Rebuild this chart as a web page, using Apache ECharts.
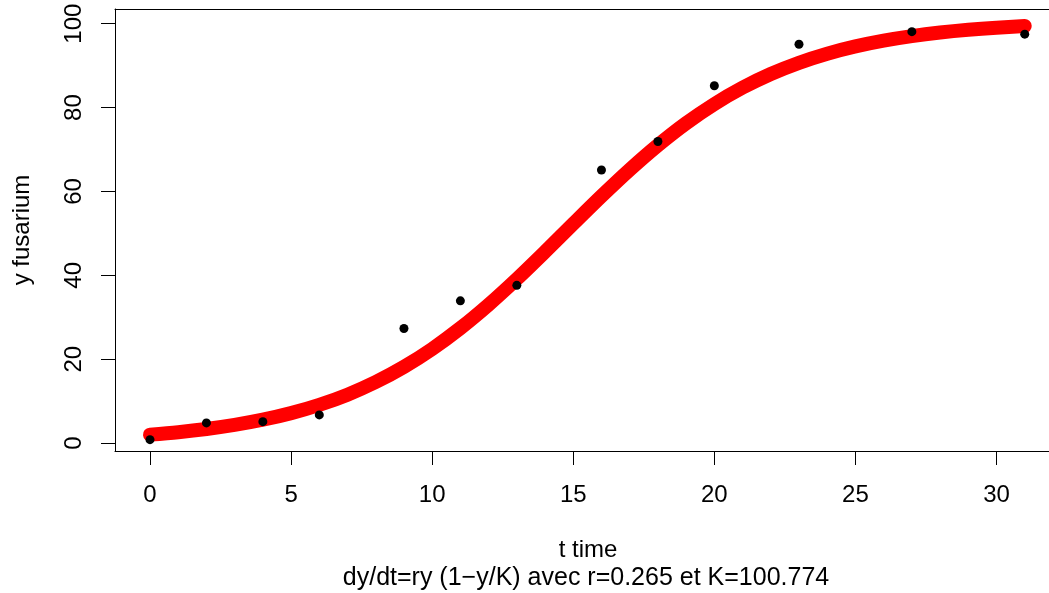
<!DOCTYPE html>
<html>
<head>
<meta charset="utf-8">
<title>Croissance logistique de fusarium</title>
<script src="https://cdn.jsdelivr.net/npm/echarts@6/dist/echarts.min.js"></script>
<style>
  html, body { margin: 0; padding: 0; background: #fff; }
  #chart { width: 1049px; height: 593px; }
</style>
</head>
<body>
<div id="chart"></div>
<script>
// Observed fusarium level over time
const obsTime = [0, 2, 4, 6, 9, 11, 13, 16, 18, 20, 23, 27, 31];
const obsFusarium = [0.8, 4.8, 5.1, 6.7, 27.3, 33.9, 37.6, 65.1, 71.9, 85.2, 95.1, 98.1, 97.5];

// Fitted logistic curve dy/dt = r y (1 - y/K)
const fitTime = [0, 1, 2, 3, 4, 5, 6, 7, 8, 9, 10, 11, 12, 13, 14, 15,
                 16, 17, 18, 19, 20, 21, 22, 23, 24, 25, 26, 27, 28, 29, 30, 31];
const fitFusarium = [2.00, 2.59, 3.35, 4.32, 5.56, 7.13, 9.10, 11.54, 14.55, 18.16,
                     22.44, 27.40, 32.99, 39.12, 45.62, 52.28, 58.87, 65.17, 71.01,
                     76.26, 80.83, 84.74, 88.00, 90.67, 92.84, 94.58, 95.95, 97.03,
                     97.88, 98.54, 99.05, 99.44];

const xTicks = [0, 5, 10, 15, 20, 25, 30];
const yTicks = [0, 20, 40, 60, 80, 100];

const xTitle = 't time';
const yTitle = 'y fusarium';
const subTitle = 'dy/dt=ry (1\u2212y/K) avec r=0.265 et K=100.774';

const FONT = '"Liberation Sans", Arial, Helvetica, sans-serif';
const FS = 24;
const FS_SUB = 25;

// x range runs past the right edge of the canvas, so the frame's right side is not drawn
const X_MIN = -1.24, X_MAX = 31.86;
const Y_MIN = -1.9, Y_MAX = 103.5;

const chart = echarts.init(document.getElementById('chart'), null, { renderer: 'canvas' });

const frameLine = { show: true, onZero: false, lineStyle: { color: '#000', width: 1 } };

chart.setOption({
  animation: false,
  backgroundColor: '#ffffff',
  grid: { left: 115, top: 9, bottom: 142, right: 0, show: false },
  xAxis: [
    {
      type: 'value',
      position: 'bottom',
      min: X_MIN,
      max: X_MAX,
      axisLine: frameLine,
      splitLine: { show: false },
      axisTick: {
        show: true, length: 14, inside: false,
        customValues: xTicks,
        lineStyle: { color: '#000', width: 1 }
      },
      axisLabel: {
        customValues: xTicks,
        margin: 32,
        color: '#000',
        fontFamily: FONT,
        fontSize: FS
      }
    },
    {
      type: 'value',
      position: 'top',
      min: X_MIN,
      max: X_MAX,
      axisLine: frameLine,
      splitLine: { show: false },
      axisTick: { show: false },
      axisLabel: { show: false }
    }
  ],
  yAxis: {
    type: 'value',
    min: Y_MIN,
    max: Y_MAX,
    axisLine: frameLine,
    splitLine: { show: false },
    axisTick: {
      show: true, length: 14, inside: false,
      customValues: yTicks,
      lineStyle: { color: '#000', width: 1 }
    },
    axisLabel: {
      customValues: yTicks,
      rotate: 90,
      margin: 29,
      color: '#000',
      fontFamily: FONT,
      fontSize: FS
    }
  },
  series: [
    {
      type: 'line',
      data: fitTime.map((t, i) => [t, fitFusarium[i]]),
      showSymbol: false,
      smooth: 0.3,
      clip: true,
      lineStyle: { color: '#ff0000', width: 14, cap: 'round', join: 'round' },
      z: 2
    },
    {
      type: 'scatter',
      data: obsTime.map((t, i) => [t, obsFusarium[i]]),
      symbol: 'circle',
      symbolSize: 9,
      itemStyle: { color: '#000', opacity: 1 },
      z: 3
    }
  ],
  graphic: [
    {
      type: 'text', x: 588, y: 550,
      style: { text: xTitle, fill: '#000', font: FS + 'px ' + FONT,
               textAlign: 'center', textVerticalAlign: 'middle' }
    },
    {
      type: 'text', x: 586, y: 578,
      style: { text: subTitle, fill: '#000', font: FS_SUB + 'px ' + FONT,
               textAlign: 'center', textVerticalAlign: 'middle' }
    },
    {
      type: 'text', x: 22, y: 230, rotation: Math.PI / 2,
      style: { text: yTitle, fill: '#000', font: FS + 'px ' + FONT,
               textAlign: 'center', textVerticalAlign: 'middle' }
    }
  ]
});
</script>
</body>
</html>
